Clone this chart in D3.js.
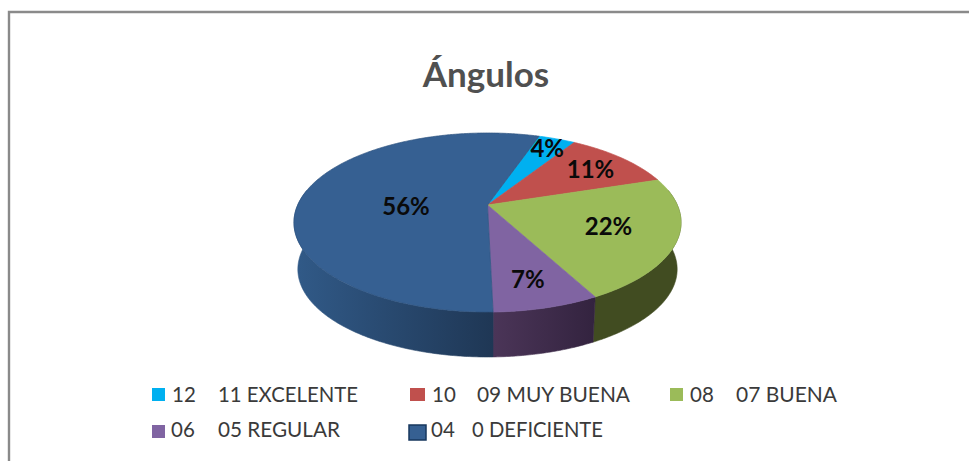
<!DOCTYPE html>
<html><head><meta charset="utf-8">
<script src="https://cdn.jsdelivr.net/npm/d3@7"></script>
<style>html,body{margin:0;padding:0;background:#fff}svg{display:block}text{white-space:pre}</style>
</head><body><svg id="c" width="969" height="461"></svg>
<script>
const codes = ["12","10","08","06","04"];
const names = ["11 EXCELENTE","09 MUY BUENA","07 BUENA","05 REGULAR","0 DEFICIENTE"];
const values = [3.7,11.1,22.2,7.4,55.6];
const labels = ["4%","11%","22%","7%","56%"];
const topColors = ["#00b0f0","#c0504d","#9bbb59","#8064a2","#366092"];
const sideLeft = ["#0078a5","#863735","#414c21","#4b3558","#315a88"];
const sideRight = ["#0078a5","#863735","#414c21","#33233f","#1f3755"];
const title = "Ángulos";

const svg = d3.select("#c");
const W=969,H=461;
// frame: left and top edges only are visible
svg.append("path").attr("d",`M9 ${H} V12 H${W}`).attr("fill","none").attr("stroke","#8a8a8a").attr("stroke-width",2.4);

// perspective disc
const cx=487.5, cy=205, R=189.8, k=86.1, a=0.1955;
function proj(t,r=1){ // t: clockwise from north
  const u=r*Math.sin(t), v=-r*Math.cos(t), d=1-a*v;
  return [cx+R*u/d, cy+k*v/d];
}
const S=0.98, D=47.1;
function projB(t){const p=proj(t);return [cx+(p[0]-cx)*S, cy+(p[1]-cy)*S+D];}

const start=18.8*Math.PI/180;
const pie=d3.pie().sort(null).startAngle(start).endAngle(start+2*Math.PI)(values);
const line=d3.line();
function samples(a0,a1){const n=Math.max(2,Math.ceil((a1-a0)/0.01));return d3.range(n+1).map(i=>a0+(a1-a0)*i/n);}

const defs=svg.append("defs");
// side walls
const visA=80*Math.PI/180, visB=280*Math.PI/180;
pie.forEach((s,i)=>{
  const a0=Math.max(s.startAngle,visA), a1=Math.min(s.endAngle,visB);
  if(a1<=a0) return;
  const ts=samples(a0,a1);
  const tp=ts.map(t=>proj(t)), bt=ts.map(t=>projB(t)).reverse();
  const xs=tp.concat(bt).map(p=>p[0]);
  const g=defs.append("linearGradient").attr("id","g"+i).attr("gradientUnits","userSpaceOnUse")
    .attr("x1",d3.min(xs)).attr("x2",d3.max(xs)).attr("y1",0).attr("y2",0);
  g.append("stop").attr("offset",0).attr("stop-color",sideLeft[i]);
  g.append("stop").attr("offset",1).attr("stop-color",sideRight[i]);
  svg.append("path").attr("d",line(tp.concat(bt))+"Z").attr("fill",`url(#g${i})`)
    .attr("stroke",`url(#g${i})`).attr("stroke-width",0.6);
});
// top faces
pie.forEach((s,i)=>{
  const pts=[[cx,cy]].concat(samples(s.startAngle,s.endAngle).map(t=>proj(t)));
  svg.append("path").attr("d",line(pts)+"Z").attr("fill",topColors[i])
    .attr("stroke",i==4?"#2f5581":topColors[i]).attr("stroke-width",0.7).attr("stroke-linejoin","round");
});
// data labels
const lr=[0.84,0.75,0.655,0.77,0.44], ldx=[0,0,0,-3,0], ldy=[0,1,-1,0,7];
pie.forEach((s,i)=>{
  const m=(s.startAngle+s.endAngle)/2, p=proj(m,lr[i]);
  svg.append("text").attr("x",p[0]+ldx[i]).attr("y",p[1]+ldy[i]).attr("dy","0.35em").attr("text-anchor","middle")
    .attr("font-family","Lato").attr("font-weight",700).attr("font-size",24).attr("fill","#0a0a0a").text(labels[i]);
});
// title
svg.append("text").attr("x",486).attr("y",87).attr("text-anchor","middle").attr("font-family","Lato")
  .attr("font-weight",700).attr("font-size",35).attr("fill","#505050").text(title);
// legend layout
const swX=[152,410,670,152,409], swW=[13,15,13,13,17], swY=[388,388,388,425,425], swH=[13,13,13,13,15];
const codeX=[172,432,690,171,431], nameX=[218,477,736,218,472], nameW=[140,153,101,122,131], baseY=[402,402,402,437,437];
codes.forEach((c,i)=>{
  svg.append("rect").attr("x",swX[i]).attr("y",swY[i]).attr("width",swW[i]).attr("height",swH[i])
    .attr("fill",topColors[i]).attr("stroke",i==4?"#17375e":"none").attr("stroke-width",i==4?1.5:0);
  const t=svg.append("text").attr("y",baseY[i]).attr("font-family","Lato").attr("font-size",20.5).attr("fill","#3a3a3a");
  t.append("tspan").attr("x",codeX[i]).text(c);
  t.append("tspan").attr("x",nameX[i]).attr("textLength",nameW[i]).attr("lengthAdjust","spacingAndGlyphs").text(names[i]);
});
</script></body></html>
